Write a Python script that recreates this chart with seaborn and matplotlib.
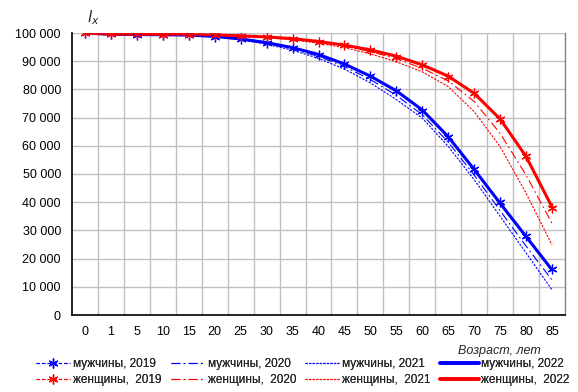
import numpy as np
import pandas as pd
import matplotlib
matplotlib.use("Agg")
import matplotlib.pyplot as plt
import seaborn as sns
from matplotlib.lines import Line2D

# age groups (categorical x axis)
ages = ['0', '1', '5', '10', '15', '20', '25', '30', '35', '40', '45',
        '50', '55', '60', '65', '70', '75', '80', '85']

# number of survivors l(x), men
men_2019 = [100000, 99500, 99400, 99330, 99200, 98750, 97800, 96500, 94700, 92300,
            88900, 84600, 79300, 72500, 63000, 51800, 40000, 28000, 16300]
men_2020 = [100000, 99480, 99380, 99300, 99180, 98700, 97700, 96300, 94300, 91700,
            88100, 83500, 77900, 71000, 61300, 49600, 37000, 24400, 12400]
men_2021 = [100000, 99500, 99400, 99320, 99200, 98650, 97550, 96000, 93900, 91000,
            87200, 82300, 76400, 69800, 59800, 48000, 35000, 22000, 8900]
men_2022 = [100000, 99550, 99450, 99380, 99250, 98800, 97900, 96600, 94800, 92400,
            89000, 84700, 79500, 72700, 63200, 51600, 39600, 27800, 16000]

# women
women_2019 = [100000, 99550, 99500, 99450, 99400, 99250, 98950, 98500, 97900, 96900,
              95600, 93800, 91600, 88500, 84500, 78600, 69400, 56400, 38000]
women_2020 = [100000, 99580, 99520, 99470, 99420, 99250, 98900, 98450, 97800, 96700,
              95300, 93400, 90900, 87500, 83000, 75700, 64400, 49600, 32500]
women_2021 = [100000, 99600, 99540, 99490, 99430, 99250, 98850, 98350, 97600, 96400,
              94800, 92600, 89800, 86200, 81000, 72100, 59700, 43200, 24800]
women_2022 = [100000, 99600, 99550, 99500, 99450, 99300, 99000, 98600, 98000, 97000,
              95700, 94000, 91800, 88700, 84700, 78600, 69500, 56200, 38300]

BLUE = '#0000ff'
RED = '#ff0000'
star = (6, 2, 0)

# one legend column per year: (men label, men values, women label, women values, style)
years = [
    ('мужчины, 2019', men_2019, 'женщины,  2019', women_2019, (0, (3, 2)), 0.8, star, 5),
    ('мужчины, 2020', men_2020, 'женщины,  2020', women_2020, (0, (8, 3, 1.5, 3)), 0.8, None, 3),
    ('мужчины, 2021', men_2021, 'женщины,  2021', women_2021, (0, (2, 1.2)), 0.8, None, 3),
    ('мужчины, 2022', men_2022, 'женщины,  2022', women_2022, '-', 2.2, None, 4),
]
leg_x = [36, 171, 305, 440]

sns.set_style('white')
plt.rcParams['font.family'] = ['Liberation Sans', 'DejaVu Sans']

fig = plt.figure(figsize=(5.78, 3.92), dpi=100)
ax = fig.add_axes([72 / 578, 1 - 315 / 392, (565 - 72) / 578, (315 - 33) / 392])

pos = np.arange(len(ages))
for (lm, vm, lw_, vw, ls, lw, mk, z), lx in zip(years, leg_x):
    hs = []
    for vals, col in [(vm, BLUE), (vw, RED)]:
        df = pd.DataFrame({'x': pos, 'y': vals})
        kw = dict(color=col, linestyle=ls, linewidth=lw, zorder=z)
        if mk is not None:
            kw.update(marker=mk, markersize=7, markeredgewidth=0.9,
                      markeredgecolor=col)
        sns.lineplot(data=df, x='x', y='y', ax=ax, legend=False, sort=False, **kw)
        hs.append(Line2D([], [], color=col, linestyle=ls,
                         linewidth=lw if lw < 2 else 2.6,
                         marker=mk, markersize=7, markeredgewidth=0.9))
    leg = fig.legend(hs, [lm, lw_], loc='center left',
                     bbox_to_anchor=(lx / 578, 1 - 372 / 392),
                     frameon=False, fontsize=8.5,
                     handlelength=2.9 if lw < 2 else 3.3,
                     handletextpad=0.2, labelspacing=0.35,
                     borderaxespad=0, borderpad=0)
    fig.add_artist(leg)

ax.set_xlim(-0.5, len(ages) - 0.5)
ax.set_ylim(0, 100000)
ax.set_xticks(pos)
ax.set_xticklabels(ages)
ax.set_xticks(np.arange(0.5, len(ages) - 0.5, 1), minor=True)
ax.set_yticks(np.arange(0, 100001, 10000))
ax.set_yticklabels([f'{v:,.0f}'.replace(',', ' ') for v in range(0, 100001, 10000)])
ax.grid(False)
ax.grid(True, which='minor', axis='x', color='#c0c0c0', linewidth=1)
ax.grid(True, which='major', axis='y', color='#c0c0c0', linewidth=1)
ax.set_axisbelow(True)
ax.tick_params(which='both', length=0, labelsize=9, colors='black')
ax.tick_params(axis='x', pad=8)
ax.tick_params(axis='y', pad=8)
ax.set_xlabel('')
ax.set_ylabel('')
for s in ['left', 'bottom']:
    ax.spines[s].set_color('black')
    ax.spines[s].set_linewidth(1.2)
ax.spines['right'].set_color('#808080')
ax.spines['right'].set_linewidth(1)
ax.spines['top'].set_visible(False)

fig.text(93 / 578, 1 - 18 / 392, r'$\mathit{l}_x$', fontsize=11, ha='center', va='center')
fig.text(458 / 578, 1 - 351 / 392, 'Возраст, лет', fontsize=9, style='italic',
         ha='left', va='center')

fig.savefig('out.png', dpi=100)
